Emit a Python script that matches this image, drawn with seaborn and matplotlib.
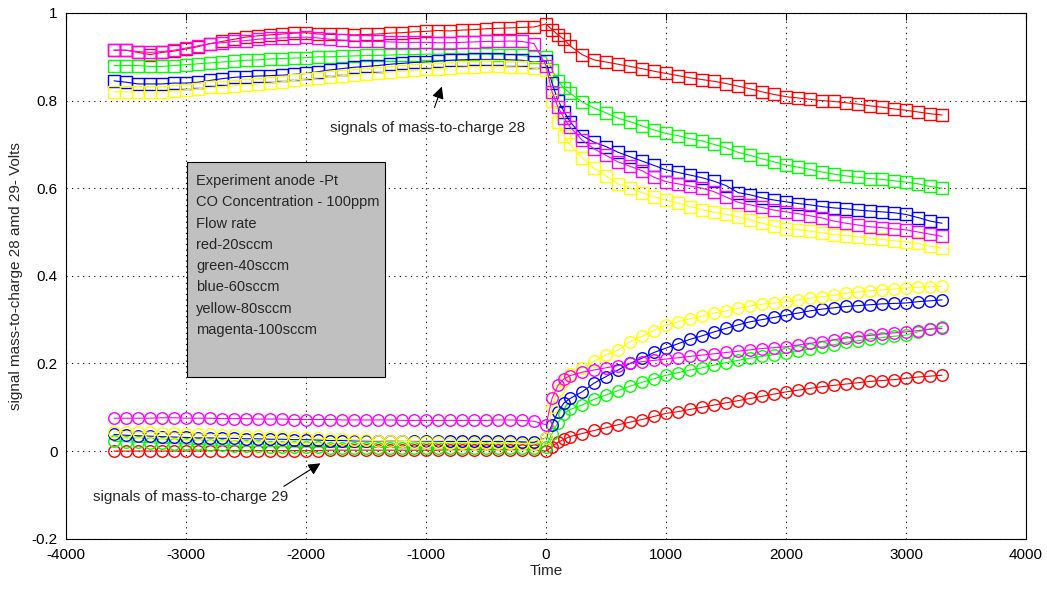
import numpy as np
import pandas as pd
import matplotlib
matplotlib.use("Agg")
import matplotlib.pyplot as plt
import seaborn as sns
from matplotlib.patches import Rectangle

# ---------------- data ----------------
t_pre = [-3600, -3500, -3400, -3300, -3200, -3100, -3000, -2900, -2800, -2700,
         -2600, -2500, -2400, -2300, -2200, -2100, -2000, -1900, -1800, -1700,
         -1600, -1500, -1400, -1300, -1200, -1100, -1000, -900, -800, -700,
         -600, -500, -400, -300, -200, -100]
t_post = [0, 50, 100, 150, 200, 300, 400, 500, 600, 700, 800, 900, 1000, 1100,
          1200, 1300, 1400, 1500, 1600, 1700, 1800, 1900, 2000, 2100, 2200,
          2300, 2400, 2500, 2600, 2700, 2800, 2900, 3000, 3100, 3200, 3300]

# mass-to-charge 28 (squares)
red28_pre = [.915, .915, .91, .905, .91, .913, .918, .923, .93, .935, .94, .945, .948, .95, .952, .954, .955,
             .952, .951, .951, .95, .951, .952, .954, .955, .957, .958, .96, .959, .961, .962, .964, .965, .966, .967, .968]
red28_post = [.975, .962, .95, .94, .925, .905, .893, .888, .883, .878, .873, .867, .862, .857, .852, .848, .844, .839,
              .833, .827, .82, .814, .809, .806, .803, .8, .798, .795, .792, .788, .785, .781, .778, .774, .77, .767]
green28_pre = [.88, .88, .88, .878, .878, .88, .882, .884, .886, .888, .89, .892, .893, .895, .896, .897, .898, .9,
               .9, .901, .902, .903, .903, .904, .905, .905, .906, .906, .907, .907, .906, .906, .905, .905, .903, .9]
green28_post = [.9, .87, .845, .828, .817, .797, .783, .772, .76, .752, .742, .733, .725, .72, .713, .708, .7, .692,
                .682, .675, .667, .66, .653, .648, .643, .637, .632, .628, .625, .622, .62, .617, .614, .61, .604, .6]
blue28_pre = [.845, .842, .838, .838, .838, .84, .84, .842, .846, .85, .853, .855, .856, .857, .858, .86, .862, .866,
              .87, .873, .876, .878, .88, .883, .885, .887, .888, .89, .892, .893, .894, .894, .894, .893, .892, .888]
blue28_post = [.89, .84, .8, .775, .752, .72, .705, .695, .682, .672, .662, .652, .642, .636, .63, .624, .616, .606,
               .59, .585, .578, .573, .569, .565, .562, .558, .555, .553, .55, .548, .546, .544, .54, .533, .525, .52]
yellow28_pre = [.82, .82, .82, .82, .82, .822, .825, .827, .83, .832, .834, .836, .838, .84, .843, .846, .849, .852,
                .855, .857, .859, .861, .863, .865, .867, .869, .871, .873, .875, .876, .877, .878, .878, .877, .876, .874]
yellow28_post = [.87, .8, .75, .72, .7, .67, .645, .628, .61, .6, .59, .58, .573, .566, .558, .551, .545, .54,
                 .535, .528, .52, .513, .508, .505, .502, .498, .494, .492, .489, .486, .483, .48, .478, .474, .468, .463]
magenta28_pre = [.915, .915, .912, .91, .912, .915, .92, .925, .93, .932, .935, .937, .94, .942, .943, .944, .945, .943,
                 .94, .938, .936, .935, .935, .934, .933, .933, .933, .932, .932, .933, .934, .935, .935, .936, .935, .93]
magenta28_post = [.88, .82, .785, .76, .74, .71, .69, .675, .66, .65, .64, .625, .615, .61, .605, .6, .592, .58,
                  .568, .562, .556, .55, .546, .542, .537, .532, .525, .52, .516, .512, .51, .507, .505, .5, .495, .49]

# mass-to-charge 29 (circles)
red29_pre = [0, 0, 0, 0, 0, 0, 0, 0, .001, .001, .001, .001, .001, .001, .001, .001, .001, .001,
             .002, .002, .002, .002, .002, .002, .002, .002, .002, .002, .003, .003, .003, .003, .003, .003, .003, .003]
red29_post = [0, .01, .02, .027, .033, .04, .047, .053, .06, .066, .072, .079, .086, .09, .095, .1, .105, .11,
              .115, .12, .125, .13, .135, .139, .143, .147, .15, .153, .156, .159, .161, .163, .166, .169, .171, .173]
green29_pre = [.022, .021, .02, .019, .018, .017, .016, .015, .014, .013, .012, .011, .011, .01, .01, .009, .009, .009,
               .008, .008, .008, .008, .008, .008, .007, .007, .007, .007, .007, .007, .007, .007, .007, .007, .007, .007]
green29_post = [.01, .04, .065, .085, .095, .105, .118, .128, .138, .148, .157, .165, .173, .179, .185, .19, .196, .202,
                .207, .212, .216, .22, .223, .228, .233, .238, .243, .248, .252, .256, .259, .262, .265, .272, .279, .284]
blue29_pre = [.038, .036, .035, .034, .033, .032, .031, .03, .03, .029, .029, .028, .028, .027, .027, .026, .026, .025,
              .024, .024, .023, .023, .023, .023, .022, .022, .022, .022, .022, .022, .022, .022, .022, .022, .021, .02]
blue29_post = [.03, .06, .09, .11, .12, .135, .155, .17, .185, .2, .212, .225, .235, .245, .255, .263, .272, .28,
               .288, .295, .3, .305, .31, .315, .32, .324, .327, .33, .332, .334, .336, .337, .338, .341, .343, .345]
yellow29_pre = [.044, .044, .043, .043, .042, .041, .04, .039, .038, .037, .036, .035, .034, .033, .032, .031, .03, .029,
                .028, .027, .026, .025, .024, .023, .022, .021, .02, .02, .019, .019, .018, .018, .018, .018, .017, .016]
yellow29_post = [.03, .1, .14, .16, .175, .19, .205, .22, .23, .25, .262, .275, .288, .295, .302, .308, .315, .32,
                 .326, .331, .335, .338, .341, .345, .349, .352, .356, .36, .363, .366, .368, .37, .372, .374, .375, .376]
magenta29_pre = [.075, .075, .075, .075, .076, .076, .075, .075, .075, .074, .074, .074, .073, .073, .073, .072, .072, .072,
                 .072, .071, .071, .071, .071, .071, .07, .07, .07, .07, .07, .07, .07, .07, .071, .071, .07, .068]
magenta29_post = [.06, .12, .15, .165, .172, .18, .185, .19, .195, .2, .204, .207, .21, .213, .216, .219, .222, .225,
                  .228, .231, .234, .236, .238, .242, .246, .25, .254, .258, .261, .264, .267, .27, .272, .275, .278, .28]

series_names = ["red", "green", "blue", "yellow", "magenta"]
series_colors = ["#FF0000", "#00FF00", "#0000FF", "#FFFF00", "#FF00FF"]
m28 = {"red": (red28_pre, red28_post), "green": (green28_pre, green28_post),
       "blue": (blue28_pre, blue28_post), "yellow": (yellow28_pre, yellow28_post),
       "magenta": (magenta28_pre, magenta28_post)}
m29 = {"red": (red29_pre, red29_post), "green": (green29_pre, green29_post),
       "blue": (blue29_pre, blue29_post), "yellow": (yellow29_pre, yellow29_post),
       "magenta": (magenta29_pre, magenta29_post)}

box_lines = ["Experiment anode -Pt", "CO Concentration - 100ppm", "Flow rate",
             "red-20sccm", "green-40sccm", "blue-60sccm", "yellow-80sccm", "magenta-100sccm"]

# ---------------- plot ----------------
sns.set_style("white")
plt.rcParams["font.family"] = ["Liberation Sans", "DejaVu Sans"]

fig = plt.figure(figsize=(10.47, 5.90), dpi=100)
ax = fig.add_axes([0.063, 0.087, 0.917, 0.891])

times = t_pre + t_post
for name, col in zip(series_names, series_colors):
    for data, mk in ((m28, "s"), (m29, "o")):
        vals = data[name][0] + data[name][1]
        df = pd.DataFrame({"Time": times, "Signal": vals})
        sns.lineplot(data=df, x="Time", y="Signal", ax=ax, color=col, sort=False,
                     estimator=None, marker=mk, markersize=8.3, markerfacecolor="none",
                     markeredgecolor=col, markeredgewidth=1.0, linewidth=0.8)

ax.set_xlim(-4000, 4000)
ax.set_ylim(-0.2, 1.0)
ax.set_xticks(np.arange(-4000, 4001, 1000))
ax.set_yticks(np.round(np.arange(-0.2, 1.01, 0.2), 1))
ax.set_yticklabels(["-0.2", "0", "0.2", "0.4", "0.6", "0.8", "1"])
ax.set_xticklabels([str(v) for v in range(-4000, 4001, 1000)])
ax.grid(True, linestyle=(0, (1, 4)), color="black", linewidth=0.8)
ax.tick_params(direction="in", top=True, right=True, length=5, width=0.8,
               labelsize=11, colors="black")
ax.tick_params(axis="x", pad=7)
ax.tick_params(axis="y", pad=6)
for s in ax.spines.values():
    s.set_color("black")
    s.set_linewidth(0.8)
ax.set_xlabel("Time", fontsize=11, labelpad=1)
ax.set_ylabel("signal mass-to-charge 28 amd 29- Volts", fontsize=11, labelpad=6)

# info box
ax.add_patch(Rectangle((-2990, 0.168), 1650, 0.492, facecolor="#C0C0C0",
                       edgecolor="black", linewidth=0.8, zorder=5))
ax.text(-2915, 0.632, "\n".join(box_lines), fontsize=10.5, va="top", ha="left",
        linespacing=1.66, zorder=6)

# annotations
ax.annotate("signals of mass-to-charge 28", xy=(-868, 0.832), xytext=(-990, 0.737),
            fontsize=11, ha="center", va="center",
            arrowprops=dict(arrowstyle="-|>", color="black", lw=0.8, mutation_scale=18,
                            shrinkA=8, shrinkB=0))
ax.annotate("signals of mass-to-charge 29", xy=(-1880, -0.028), xytext=(-2960, -0.104),
            fontsize=11, ha="center", va="center",
            arrowprops=dict(arrowstyle="-|>", color="black", lw=0.8, mutation_scale=18,
                            shrinkA=0, shrinkB=0, relpos=(0.95, 1.0)))

fig.savefig("out.png", dpi=100)
